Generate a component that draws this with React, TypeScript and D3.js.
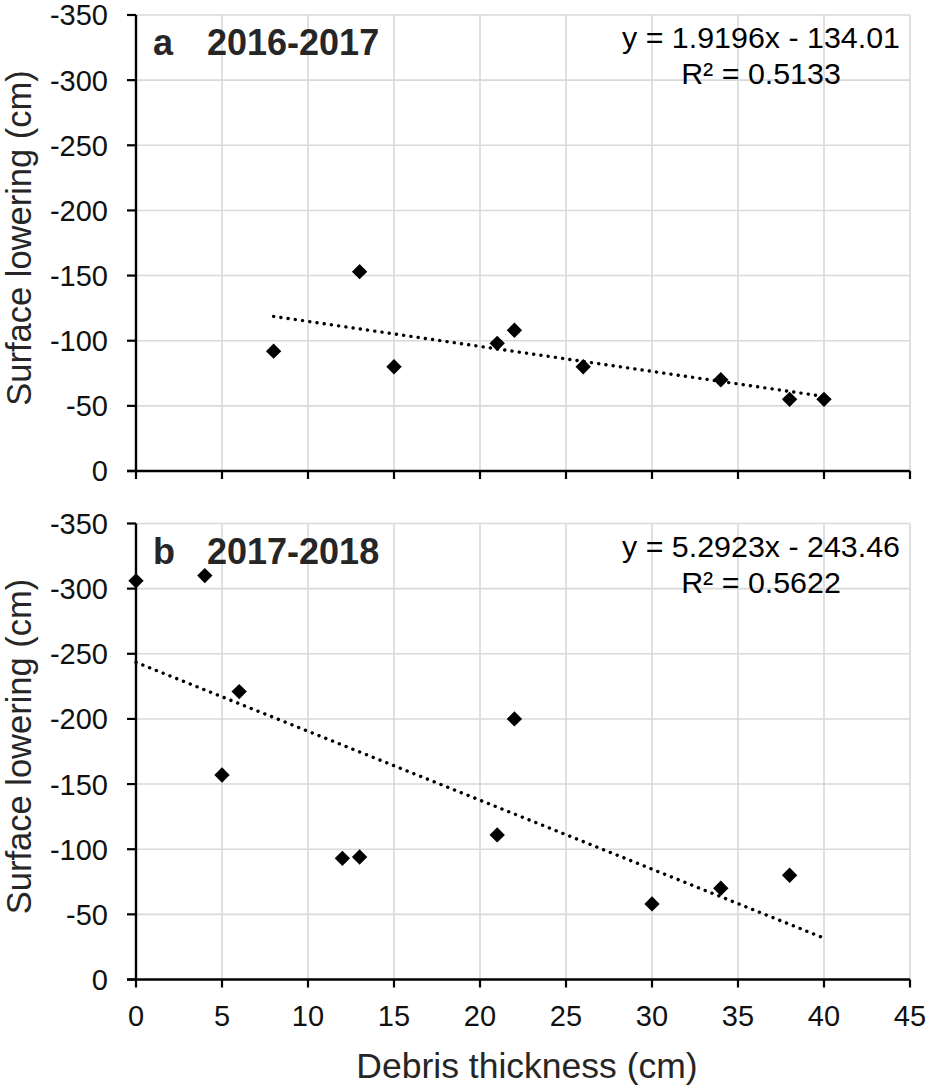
import * as React from "react";
import * as d3 from "d3";

// panel a: 2016-2017
const thicknessA = [8, 13, 15, 21, 22, 26, 34, 38, 40];
const loweringA = [-92, -153, -80, -98, -108, -80, -70, -55, -55];
const fitA = { slope: 1.9196, intercept: -134.01, r2: "0.5133", from: 8, to: 40 };

// panel b: 2017-2018
const thicknessB = [0, 4, 5, 6, 12, 13, 21, 22, 30, 34, 38];
const loweringB = [-306, -310, -157, -221, -93, -94, -111, -200, -58, -70, -80];
const fitB = { slope: 5.2923, intercept: -243.46, r2: "0.5622", from: 0, to: 40 };

const xTicks = [0, 5, 10, 15, 20, 25, 30, 35, 40, 45];
const yTicks = [0, -50, -100, -150, -200, -250, -300, -350];

const panels = [
  { letter: "a", period: "2016-2017", xs: thicknessA, ys: loweringA, fit: fitA, eq: "y = 1.9196x - 134.01", top: 15, showX: false },
  { letter: "b", period: "2017-2018", xs: thicknessB, ys: loweringB, fit: fitB, eq: "y = 5.2923x - 243.46", top: 523.5, showX: true },
];

const W = 930;
const H = 1089;
const left = 136;
const right = 910;
const plotH = 456;
const font = "'Liberation Sans', Arial, sans-serif";

const x = d3.scaleLinear().domain([0, 45]).range([left, right]);
const diamond = d3.symbol().type(d3.symbolSquare).size(118);

function Panel({ p }: { p: (typeof panels)[number] }) {
  const y = d3.scaleLinear().domain([0, -350]).range([p.top + plotH, p.top]);
  const line = d3.line<number>()
    .x((d) => x(d))
    .y((d) => y(p.fit.slope * d + p.fit.intercept));
  const mid = (p.top + p.top + plotH) / 2;
  const eqX = 761;

  return (
    <g>
      {/* grid */}
      {xTicks.slice(1).map((t) => (
        <line key={"gx" + t} x1={x(t)} x2={x(t)} y1={y(-350)} y2={y(0)} stroke="#d9d9d9" strokeWidth={1.6} />
      ))}
      {yTicks.slice(1).map((t) => (
        <line key={"gy" + t} x1={left} x2={right} y1={y(t)} y2={y(t)} stroke="#d9d9d9" strokeWidth={1.6} />
      ))}

      {/* axes */}
      <line x1={left} x2={left} y1={y(-350)} y2={y(0)} stroke="#000" strokeWidth={2.4} />
      <line x1={left - 9} x2={right} y1={y(0)} y2={y(0)} stroke="#000" strokeWidth={2.4} />
      {yTicks.map((t) => (
        <g key={"ty" + t}>
          <line x1={left - 9} x2={left} y1={y(t)} y2={y(t)} stroke="#000" strokeWidth={2.2} />
          <text x={108} y={y(t)} dy="0.36em" textAnchor="end" fontSize={29} fontFamily={font} fill="#111">
            {t}
          </text>
        </g>
      ))}
      {xTicks.map((t) => (
        <g key={"tx" + t}>
          <line x1={x(t)} x2={x(t)} y1={y(0)} y2={y(0) + 8} stroke="#000" strokeWidth={2.2} />
          {p.showX && (
            <text x={x(t)} y={y(0) + 36} dy="0.36em" textAnchor="middle" fontSize={29} fontFamily={font} fill="#111">
              {t}
            </text>
          )}
        </g>
      ))}

      {/* y title */}
      <text
        transform={`translate(31.2,${mid - 5}) rotate(-90)`}
        textAnchor="middle"
        fontSize={34.5}
        fontFamily={font}
        fill="#262626"
      >
        Surface lowering (cm)
      </text>

      {/* trendline */}
      <path
        d={line([p.fit.from, p.fit.to]) as string}
        fill="none"
        stroke="#000"
        strokeWidth={3.4}
        strokeDasharray="0.1 7.2"
        strokeLinecap="round"
      />

      {/* points */}
      {p.xs.map((d, i) => (
        <path
          key={"pt" + i}
          d={diamond() as string}
          transform={`translate(${x(d)},${y(p.ys[i])}) rotate(45)`}
          fill="#000"
        />
      ))}

      {/* labels */}
      <text x={153} y={p.top + 40} fontSize={36} fontWeight="bold" fontFamily={font} fill="#262626">
        {p.letter}
      </text>
      <text x={207} y={p.top + 40} fontSize={36} fontWeight="bold" fontFamily={font} fill="#262626">
        {p.period}
      </text>
      <text x={eqX} y={p.top + 33} textAnchor="middle" fontSize={30.4} fontFamily={font} fill="#000">
        {p.eq}
      </text>
      <text x={eqX} y={p.top + 69} textAnchor="middle" fontSize={30.4} fontFamily={font} fill="#000">
        R² = {p.fit.r2}
      </text>
    </g>
  );
}

export default function App() {
  return (
    <svg
      width={W}
      height={H}
      viewBox={`0 0 ${W} ${H}`}
      style={{ position: "absolute", left: 0, top: 0, background: "#fff" }}
    >
      <rect width={W} height={H} fill="#fff" />
      {panels.map((p) => (
        <Panel key={p.letter} p={p} />
      ))}
      <text x={(left + right) / 2 + 4} y={1078} textAnchor="middle" fontSize={35.5} fontFamily={font} fill="#262626">
        Debris thickness (cm)
      </text>
    </svg>
  );
}
